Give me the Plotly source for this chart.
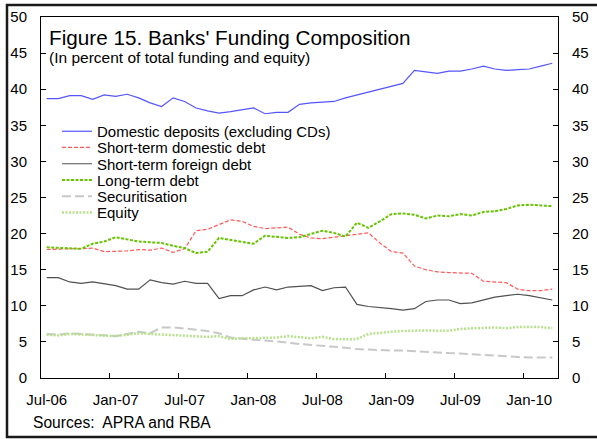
import plotly.graph_objects as go

# ---- data (monthly, Jul-06 .. Mar-10) ----
tick_labels = ["Jul-06", "Jan-07", "Jul-07", "Jan-08", "Jul-08", "Jan-09", "Jul-09", "Jan-10"]
n_months = 45

domestic_deposits = [38.7, 38.7, 39.1, 39.1, 38.6, 39.2, 39.0, 39.3, 38.8, 38.1,
                     37.6, 38.8, 38.3, 37.4, 37.0, 36.7, 36.9, 37.2, 37.4, 36.6,
                     36.8, 36.8, 37.9, 38.1, 38.2, 38.3, 38.8, 39.2, 39.6, 40.0,
                     40.4, 40.8, 42.6, 42.4, 42.2, 42.5, 42.5, 42.8, 43.2, 42.8,
                     42.6, 42.7, 42.8, 43.2, 43.6]
short_term_domestic = [17.8, 17.9, 17.9, 17.9, 18.0, 17.5, 17.5, 17.6, 17.8, 17.7,
                       18.0, 17.4, 17.9, 20.4, 20.6, 21.2, 21.9, 21.7, 21.0, 20.7,
                       20.8, 20.9, 19.9, 19.4, 19.3, 19.5, 19.6, 19.9, 20.1, 18.7,
                       17.5, 17.3, 15.5, 15.0, 14.7, 14.6, 14.5, 14.5, 13.4, 13.3,
                       13.2, 12.3, 12.1, 12.1, 12.3]
short_term_foreign = [13.9, 13.9, 13.3, 13.1, 13.3, 13.0, 12.8, 12.3, 12.3, 13.6,
                      13.2, 13.0, 13.4, 13.1, 13.1, 11.0, 11.4, 11.4, 12.2, 12.6,
                      12.2, 12.6, 12.7, 12.8, 12.1, 12.5, 12.6, 10.2, 9.9, 9.8,
                      9.6, 9.4, 9.6, 10.6, 10.8, 10.8, 10.3, 10.4, 10.8, 11.2,
                      11.4, 11.6, 11.4, 11.1, 10.8]
long_term_debt = [18.1, 18.0, 17.9, 17.9, 18.6, 18.9, 19.5, 19.2, 18.9, 18.8,
                  18.7, 18.3, 18.0, 17.3, 17.5, 19.4, 19.1, 18.9, 18.6, 19.7,
                  19.6, 19.4, 19.5, 19.9, 20.4, 20.1, 19.6, 21.5, 20.8, 21.7,
                  22.7, 22.8, 22.6, 22.1, 22.5, 22.4, 22.7, 22.5, 23.0, 23.1,
                  23.4, 23.9, 24.0, 23.9, 23.8]
securitisation = [6.1, 6.0, 6.2, 6.1, 6.0, 5.9, 5.8, 6.1, 6.4, 6.2,
                  7.0, 7.0, 6.9, 6.7, 6.5, 6.2, 5.6, 5.4, 5.3, 5.2,
                  5.1, 4.9, 4.7, 4.6, 4.5, 4.4, 4.2, 4.0, 3.9, 3.9,
                  3.8, 3.8, 3.7, 3.6, 3.55, 3.45, 3.4, 3.3, 3.1, 3.0,
                  3.0, 2.9, 2.85, 2.85, 2.85]
equity = [6.0, 5.9, 6.1, 6.0, 5.9, 5.8, 5.8, 6.0, 6.2, 6.1,
          6.0, 6.0, 5.9, 5.7, 5.7, 5.8, 5.4, 5.5, 5.5, 5.5,
          5.6, 5.8, 5.6, 5.5, 5.7, 5.4, 5.35, 5.4, 6.1, 6.3,
          6.4, 6.5, 6.6, 6.6, 6.55, 6.55, 6.8, 6.9, 7.0, 7.0,
          6.9, 7.05, 7.05, 7.05, 6.9]

x = list(range(n_months))
label_pos = list(range(0, n_months, 6))
boundary_pos = [p - 0.5 for p in label_pos]

FONT = "Liberation Sans, Arial, sans-serif"
FS = 15

# plot-area geometry in pixels (for paper-coordinate placement)
W, H = 597, 439
L, R, T, B = 41, 39, 17, 61
PW, PH = W - L - R, H - T - B


def px(xp):
    return (xp - L) / PW


def py(yp):
    return (H - B - yp) / PH


series = [
    ("Domestic deposits (excluding CDs)", domestic_deposits, dict(color="#5555FF", width=1.2, dash="solid"), "x", "y"),
    ("Short-term domestic debt", short_term_domestic, dict(color="#FF5A5A", width=1.2, dash="4px,2px"), "x", "y"),
    ("Short-term foreign debt", short_term_foreign, dict(color="#505050", width=1.2, dash="solid"), "x", "y"),
    ("Long-term debt", long_term_debt, dict(color="#66C400", width=2, dash="3px,1.5px"), "x", "y"),
    ("Securitisation", securitisation, dict(color="#C8C8C8", width=2, dash="9px,4px"), "x", "y2"),
    ("Equity", equity, dict(color="#B6E08C", width=2.5, dash="2px,1.5px"), "x2", "y"),
]

legend_rows = [131.5, 147.6, 164.0, 180.3, 196.6, 212.8]
legend_left = 57

fig = go.Figure()
layout_legends = {}
for k, (name, vals, line, xa, ya) in enumerate(series):
    lname = "legend" if k == 0 else f"legend{k + 1}"
    fig.add_trace(go.Scatter(x=x, y=vals, name=name, mode="lines", line=line,
                             xaxis=xa, yaxis=ya, legend=lname))
    layout_legends[lname] = dict(
        x=px(legend_left), y=py(legend_rows[k]), xanchor="left", yanchor="middle",
        bgcolor="rgba(0,0,0,0)", borderwidth=0,
        font=dict(family=FONT, size=FS, color="black"),
        itemclick=False, itemdoubleclick=False,
    )

axis_common = dict(range=[-0.5, n_months - 0.5], fixedrange=True)
yrange = dict(range=[0, 50], tickvals=list(range(0, 51, 5)), fixedrange=True)

fig.update_layout(
    width=W, height=H,
    margin=dict(l=L, r=R, t=T, b=B, autoexpand=False),
    paper_bgcolor="white", plot_bgcolor="white",
    font=dict(family=FONT, size=FS, color="black"),
    showlegend=True,
    xaxis=dict(**axis_common, tickmode="array", tickvals=label_pos, ticktext=tick_labels,
               ticks="", showgrid=False, zeroline=False, showline=True, linecolor="black",
               linewidth=1, mirror=True, ticklabelstandoff=8,
               tickfont=dict(family=FONT, size=FS)),
    xaxis2=dict(**axis_common, overlaying="x", anchor="y", side="bottom",
                tickmode="array", tickvals=boundary_pos, ticks="inside", ticklen=5,
                tickcolor="black", showticklabels=False, showgrid=False, zeroline=False,
                showline=False),
    yaxis=dict(**yrange, ticks="inside", ticklen=5, tickcolor="black", showgrid=False,
               zeroline=False, showline=True, linecolor="black", linewidth=1,
               ticklabelstandoff=10, tickfont=dict(family=FONT, size=FS)),
    yaxis2=dict(**yrange, overlaying="y", side="right", anchor="x", ticks="inside",
                ticklen=5, tickcolor="black", showgrid=False, zeroline=False,
                showline=True, linecolor="black", linewidth=1, ticklabelstandoff=10,
                tickfont=dict(family=FONT, size=FS)),
    **layout_legends,
)

fig.add_annotation(text="Figure 15. Banks' Funding Composition", xref="paper", yref="paper",
                   x=px(47), y=py(37), xanchor="left", yanchor="middle", showarrow=False,
                   font=dict(family=FONT, size=20.7, color="black"))
fig.add_annotation(text="(In percent of total funding and equity)", xref="paper", yref="paper",
                   x=px(47), y=py(57), xanchor="left", yanchor="middle", showarrow=False,
                   font=dict(family=FONT, size=15.5, color="black"))
fig.add_annotation(text="Sources:  APRA and RBA", xref="paper", yref="paper",
                   x=px(31), y=py(423), xanchor="left", yanchor="middle", showarrow=False,
                   font=dict(family=FONT, size=15.6, color="black"))

# outer frame of the figure
fig.add_shape(type="rect", xref="paper", yref="paper",
              x0=px(7), x1=px(610), y0=py(437), y1=py(5),
              line=dict(color="#1a1a1a", width=2.5), fillcolor="rgba(0,0,0,0)", layer="below")

fig.write_html("out.html", config={"displayModeBar": False},
               post_script="document.body.style.margin='0';document.body.style.padding='0';")
